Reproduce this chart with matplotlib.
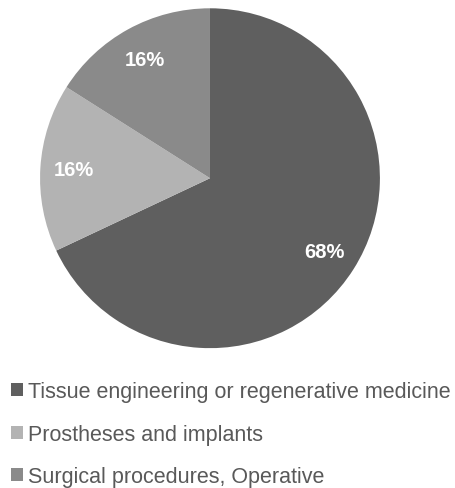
import matplotlib.pyplot as plt
from matplotlib.patches import Patch

plt.rcParams['font.family'] = ['Liberation Sans', 'DejaVu Sans']

labels = ['Tissue engineering or regenerative medicine', 'Prostheses and implants',
          'Surgical procedures, Operative']
shares = [68, 16, 16]
colors = ['#5f5f5f', '#b3b3b3', '#8a8a8a']

fig = plt.figure(figsize=(4.55, 4.89), dpi=100)
ax = fig.add_axes([0.088, 0.286, 0.747, 0.695])
wedges, texts, autotexts = ax.pie(shares, colors=colors, startangle=90, counterclock=False,
                                  autopct='%d%%', pctdistance=0.8,
                                  textprops={'color': 'white', 'fontsize': 14.5, 'fontweight': 'bold'})
ax.set_xlim(-1, 1)
ax.set_ylim(-1, 1)
ax.set_aspect('equal')

handles = [Patch(facecolor=c, edgecolor='none') for c in colors]
fig.legend(handles, labels, loc='upper left', bbox_to_anchor=(0.005, 0.236), frameon=False,
           fontsize=15.5, labelcolor='#595959', handlelength=0.55, handleheight=0.55,
           handletextpad=0.25, labelspacing=1.0, borderaxespad=0)

fig.savefig('out.png', dpi=100)
